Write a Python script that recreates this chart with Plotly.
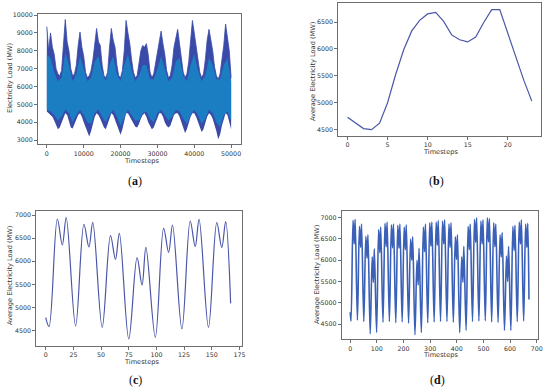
import plotly.graph_objects as go
import numpy as np

W, H = 550, 389

# ---------------- Panel (a): hourly electricity load (envelopes) ----------------
a_step = 500
a_hi = [9350, 8000, 9000, 8200, 7800, 7000, 6700, 6600, 6900, 8300,
        9750, 8500, 8000, 7000, 6600, 6700, 7200, 8300, 9050, 8200,
        7700, 6800, 6500, 6600, 6900, 7500, 8500, 9250, 8500, 8300,
        7200, 6600, 6500, 6800, 8200, 9250, 8600, 8200, 7200, 6600,
        6500, 6900, 8000, 9700, 9000, 8400, 7500, 6800, 6500, 6600,
        7300, 8000, 8300, 8200, 8400, 7800, 6800, 6500, 6700, 7300,
        8000, 8600, 9100, 8400, 7800, 6900, 6500, 6600, 7200, 8200,
        8700, 9200, 8400, 7600, 6800, 6500, 6700, 7400, 8600, 9700,
        9000, 8300, 7500, 6800, 6500, 6700, 7500, 8600, 9200, 8700,
        8000, 7100, 6600, 6400, 6700, 7500, 8300, 9500, 8800, 8000,
        6500]
a_lo = [4600, 4500, 4400, 4300, 4100, 3800, 3600, 3700, 4000, 4300,
        4500, 4400, 4100, 3700, 3650, 3900, 4200, 4400, 4500, 4300,
        4000, 3700, 3400, 3200, 3500, 4000, 4300, 4500, 4400, 4200,
        3900, 3700, 3600, 3900, 4200, 4500, 4400, 4100, 3800, 3500,
        3300, 3600, 4100, 4500, 4500, 4300, 4100, 3900, 3750, 3700,
        3900, 4200, 4400, 4500, 4300, 4000, 3800, 3600, 3700, 4000,
        4300, 4500, 4500, 4300, 4000, 3800, 3700, 3800, 4100, 4400,
        4500, 4500, 4300, 4000, 3700, 3400, 3600, 4000, 4300, 4500,
        4500, 4300, 4000, 3700, 3450, 3600, 4000, 4300, 4500, 4400,
        4200, 3900, 3500, 3050, 3300, 3800, 4200, 4500, 4400, 4000,
        3600]
a_core_step = 1000
a_core_hi = [7800, 7600, 6800, 6300, 6500, 7900, 7200, 6300, 6700, 7700,
             7000, 6300, 6500, 7400, 7700, 6800, 6300, 7200, 7700, 6700,
             6300, 7200, 7800, 6900, 6300, 6600, 7200, 7200, 6400, 6400,
             7000, 7700, 7000, 6300, 6500, 7400, 7600, 6600, 6300, 7200,
             7800, 6900, 6300, 6600, 7600, 7200, 6400, 6400, 7200, 7600,
             6300]
a_core_lo = [4700, 4600, 4400, 4100, 4300, 4700, 4500, 4000, 4400, 4700,
             4400, 4000, 3900, 4500, 4700, 4300, 4000, 4400, 4700, 4300,
             3800, 4300, 4700, 4400, 4100, 4100, 4500, 4600, 4200, 4000,
             4500, 4700, 4400, 4100, 4300, 4700, 4600, 4200, 3900, 4400,
             4700, 4400, 3900, 4200, 4700, 4500, 4000, 3700, 4400, 4600,
             4100]
a_t = [i * a_step for i in range(len(a_hi))]
a_core_t = [i * a_core_step for i in range(len(a_core_hi))]

# ---------------- Panel (b): average daily profile ----------------
b_hours = list(range(24))
b_load = [4730, 4620, 4520, 4500, 4620, 5000, 5520, 5980, 6330, 6530,
          6650, 6680, 6510, 6260, 6170, 6130, 6220, 6490, 6730, 6730,
          6280, 5830, 5420, 5030]

# ---------------- Panel (c): average weekly profile (key points per day) ----------------
key_hours = [3, 10.5, 15, 18.5]          # hour of day of: trough, peak 1, dip, peak 2
c_start, c_end, c_len = 4780, 5090, 168
c_min = [4586, 4601, 4572, 4320, 4356, 4536, 4572]
c_pk1 = [6914, 6800, 6553, 6078, 6712, 6870, 6834]
c_dip = [6352, 6308, 6042, 5487, 6193, 6316, 6294]
c_pk2 = [6942, 6840, 6604, 6301, 6784, 6906, 6856]

# ---------------- Panel (d): average four-week profile (key points per day) ----------------
d_start, d_end, d_len = 4780, 5080, 672
d_min = [4570, 4590, 4560, 4270, 4300, 4540, 4560,
         4530, 4550, 4520, 4250, 4300, 4530, 4550,
         4560, 4560, 4540, 4300, 4350, 4560, 4570,
         4580, 4550, 4540, 4350, 4350, 4560, 4570]
d_pk1 = [6940, 6800, 6560, 6080, 6720, 6870, 6830,
         6820, 6780, 6500, 6000, 6780, 6880, 6900,
         6920, 6850, 6550, 6080, 6800, 6960, 6920,
         7000, 6880, 6600, 6100, 6800, 6900, 6850]
d_dip = [6380, 6300, 6050, 5480, 6180, 6320, 6290,
         6280, 6250, 6000, 5420, 6200, 6330, 6350,
         6380, 6300, 6020, 5480, 6250, 6420, 6380,
         6430, 6320, 6080, 5500, 6230, 6380, 6300]
d_pk2 = [6960, 6850, 6600, 6270, 6780, 6900, 6850,
         6850, 6830, 6550, 6280, 6850, 6900, 6930,
         6950, 6880, 6600, 6330, 6850, 7000, 6950,
         6980, 6850, 6650, 6330, 6820, 6950, 6870]


def key_series(start, end, length, mins, pk1, dip, pk2):
    xs, ys = [0], [start]
    for d in range(len(mins)):
        for h, v in zip(key_hours, (mins[d], pk1[d], dip[d], pk2[d])):
            xs.append(24 * d + h)
            ys.append(v)
    xs.append(length - 1)
    ys.append(end)
    return xs, ys


c_x, c_y = key_series(c_start, c_end, c_len, c_min, c_pk1, c_dip, c_pk2)
d_x, d_y = key_series(d_start, d_end, d_len, d_min, d_pk1, d_dip, d_pk2)

LINE = '#4a56a8'
DARK = '#3a4aa8'
CORE = '#1b7dc2'
fig = go.Figure()

# (a)
fig.add_trace(go.Scatter(x=a_t, y=a_lo, mode='lines', line=dict(width=0, color=DARK),
                         xaxis='x', yaxis='y', hoverinfo='skip'))
fig.add_trace(go.Scatter(x=a_t, y=a_hi, mode='lines', line=dict(width=0.8, color=DARK),
                         fill='tonexty', fillcolor=DARK, xaxis='x', yaxis='y'))
fig.add_trace(go.Scatter(x=a_core_t, y=a_core_lo, mode='lines', line=dict(width=0, color=CORE),
                         xaxis='x', yaxis='y', hoverinfo='skip'))
fig.add_trace(go.Scatter(x=a_core_t, y=a_core_hi, mode='lines', line=dict(width=0, color=CORE),
                         fill='tonexty', fillcolor=CORE, xaxis='x', yaxis='y'))
# (b)
fig.add_trace(go.Scatter(x=b_hours, y=b_load, mode='lines', line=dict(width=1.2, color=LINE),
                         xaxis='x2', yaxis='y2'))
# (c)
fig.add_trace(go.Scatter(x=c_x, y=c_y, mode='lines',
                         line=dict(width=1.2, color=LINE, shape='spline', smoothing=1.0),
                         xaxis='x3', yaxis='y3'))
# (d)
fig.add_trace(go.Scatter(x=d_x, y=d_y, mode='lines',
                         line=dict(width=1.6, color='#3a60b8', shape='spline', smoothing=1.0),
                         xaxis='x4', yaxis='y4'))


def px(x0, x1):
    return [x0 / W, x1 / W]


def py(top, bottom):
    return [1 - bottom / H, 1 - top / H]


AXC = '#6e6e6e'
TF = dict(family='DejaVu Sans', size=6.3, color='#333333')


def axis(domain, rng, dtick, anchor):
    return dict(domain=domain, range=rng, dtick=dtick, tick0=0, anchor=anchor,
                showline=True, mirror=True, linecolor=AXC, linewidth=1,
                ticks='outside', ticklen=3, tickwidth=0.8, tickcolor=AXC,
                tickfont=TF, tickformat='d', showgrid=False, zeroline=False)


fig.update_layout(
    width=W, height=H, margin=dict(l=0, r=0, t=0, b=0, autoexpand=False),
    paper_bgcolor='white', plot_bgcolor='white', showlegend=False,
    xaxis=axis(px(38, 240.7), [-2400, 52600], 10000, 'y'),
    yaxis=axis(py(14, 144), [2780, 10060], 1000, 'x'),
    xaxis2=axis(px(338.3, 541), [-1.15, 24.15], 5, 'y2'),
    yaxis2=axis(py(3, 135.7), [4388, 6853], 500, 'x2'),
    xaxis3=axis(px(36.3, 241.7), [-8.5, 177], 25, 'y3'),
    yaxis3=axis(py(210.7, 345.7), [4175, 7093], 500, 'x3'),
    xaxis4=axis(px(341.7, 538.3), [-32, 706], 100, 'y4'),
    yaxis4=axis(py(210.7, 339), [4150, 7164], 500, 'x4'),
)

TITLE_F = dict(family='DejaVu Sans', size=6.6, color='#333333')
LAB_F = dict(family='Liberation Serif', size=12, color='#111111')


def ann(text, x, y, font, angle=0):
    fig.add_annotation(text=text, x=x / W, y=1 - y / H, xref='paper', yref='paper',
                       showarrow=False, xanchor='center', yanchor='middle',
                       textangle=angle, font=font)


ann('Timesteps', 141, 161.5, TITLE_F)
ann('Timesteps', 440, 152, TITLE_F)
ann('Timesteps', 141, 361.5, TITLE_F)
ann('Timesteps', 440, 354.5, TITLE_F)
ann('Electricity Load (MW)', 10, 78, TITLE_F, -90)
ann('Average Electricity Load (MW)', 313, 72, TITLE_F, -90)
ann('Average Electricity Load (MW)', 10, 276, TITLE_F, -90)
ann('Average Electricity Load (MW)', 317, 275, TITLE_F, -90)
ann('(<b>a</b>)', 135, 181, LAB_F)
ann('(<b>b</b>)', 436, 181, LAB_F)
ann('(<b>c</b>)', 135, 380, LAB_F)
ann('(<b>d</b>)', 437, 380, LAB_F)

fig.write_html('out.html', config={'displayModeBar': False},
               post_script="document.body.style.margin='0';document.body.style.overflow='hidden';")
